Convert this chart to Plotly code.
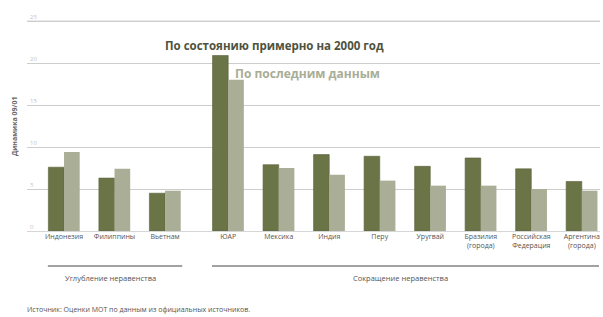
import plotly.graph_objects as go

categories = ["Индонезия", "Филиппины", "Вьетнам", "ЮАР", "Мексика", "Индия", "Перу",
              "Уругвай", "Бразилия<br>(города)", "Российская<br>Федерация", "Аргентина<br>(города)"]
group_of = [0, 0, 0, 1, 1, 1, 1, 1, 1, 1, 1]
group_names = ["Углубление неравенства", "Сокращение неравенства"]
approx_2000 = [7.6, 6.3, 4.5, 20.9, 7.9, 9.1, 8.9, 7.7, 8.7, 7.4, 5.9]
latest = [9.4, 7.4, 4.8, 18.0, 7.5, 6.7, 6.0, 5.4, 5.4, 5.0, 4.8]
series_names = ["По состоянию примерно на 2000 год", "По последним данным"]
y_ticks = [0, 5, 10, 15, 20, 25]

GAP = 0.25
xpos = [i + GAP * g for i, g in enumerate(group_of)]

DARK = "#6b7446"
LIGHT = "#aaae96"
GRID = "#cdcdcd"
W = 0.31

fig = go.Figure()
fig.add_trace(go.Bar(x=xpos, y=approx_2000, name=series_names[0], width=W, offset=-W,
                     marker=dict(color=DARK, line=dict(color="#59613a", width=0.6))))
fig.add_trace(go.Bar(x=xpos, y=latest, name=series_names[1], width=W, offset=0,
                     marker=dict(color=LIGHT, line=dict(width=0))))

# plot height = 220 px for 26.2 units (8.4 px per unit)
fig.update_layout(
    width=603, height=317,
    margin=dict(l=27, r=3, t=11, b=86),
    paper_bgcolor="white", plot_bgcolor="white",
    showlegend=False, barmode="overlay",
    font=dict(family="Open Sans", color="#555555"),
    xaxis=dict(range=[-0.733, 10.61], tickvals=xpos, ticktext=categories,
               tickfont=dict(size=7, color="#555555"), showgrid=False,
               zeroline=False, showline=False, ticks="", tickangle=0),
    yaxis=dict(range=[0, 26.2], tickvals=y_ticks, showgrid=True, gridcolor=GRID,
               gridwidth=1, zeroline=True, zerolinecolor="#d6d6d6", zerolinewidth=1,
               ticklabelposition="inside top", tickfont=dict(size=6, color="#c4c4c4"),
               showline=False, ticks=""),
)

# make sure the top gridline is drawn
fig.add_hline(y=y_ticks[-1], line=dict(color=GRID, width=1), layer="below")

# series labels
fig.add_annotation(x=xpos[3] - 1.29, y=22.1, xref="x", yref="y", text="<b>" + series_names[0] + "</b>",
                   showarrow=False, xanchor="left", yanchor="middle",
                   font=dict(size=11.5, color="#4e523e"))
fig.add_annotation(x=xpos[3] + 0.1, y=18.8, xref="x", yref="y", text="<b>" + series_names[1] + "</b>",
                   showarrow=False, xanchor="left", yanchor="middle",
                   font=dict(size=12, color="#a9ad95"))

# y title (centre at value 12.5)
fig.add_annotation(x=0, y=12.5, xref="paper", yref="y", text="<b>Динамика 09/01</b>",
                   textangle=-90, showarrow=False, xanchor="center", yanchor="middle",
                   xshift=-13,
                   font=dict(size=7, color="#666666"))

# group brackets (paper y below the axis, plot height 220 px)
PH = 220.0
for g, gname in enumerate(group_names):
    idx = [i for i, gg in enumerate(group_of) if gg == g]
    x0 = xpos[idx[0]] - 0.32
    x1 = xpos[idx[-1]] + 0.34
    fig.add_shape(type="line", xref="x", yref="paper", x0=x0, x1=x1, y0=-35 / PH, y1=-35 / PH,
                  line=dict(color="#444444", width=1.2))
    fig.add_annotation(x=(x0 + x1) / 2 - 0.1, y=-40 / PH, xref="x", yref="paper", text=gname,
                       showarrow=False, xanchor="center", yanchor="top",
                       font=dict(size=7.5, color="#555555"))

fig.add_annotation(x=0, y=-72 / PH, xref="paper", yref="paper",
                   text="Источник: Оценки МОТ по данным из официальных источников.",
                   showarrow=False, xanchor="left", yanchor="top", xshift=-2,
                   font=dict(size=7, color="#555555"))

fig.write_html("out.html", config={"displayModeBar": False},
               post_script="document.body.style.margin='0';")
